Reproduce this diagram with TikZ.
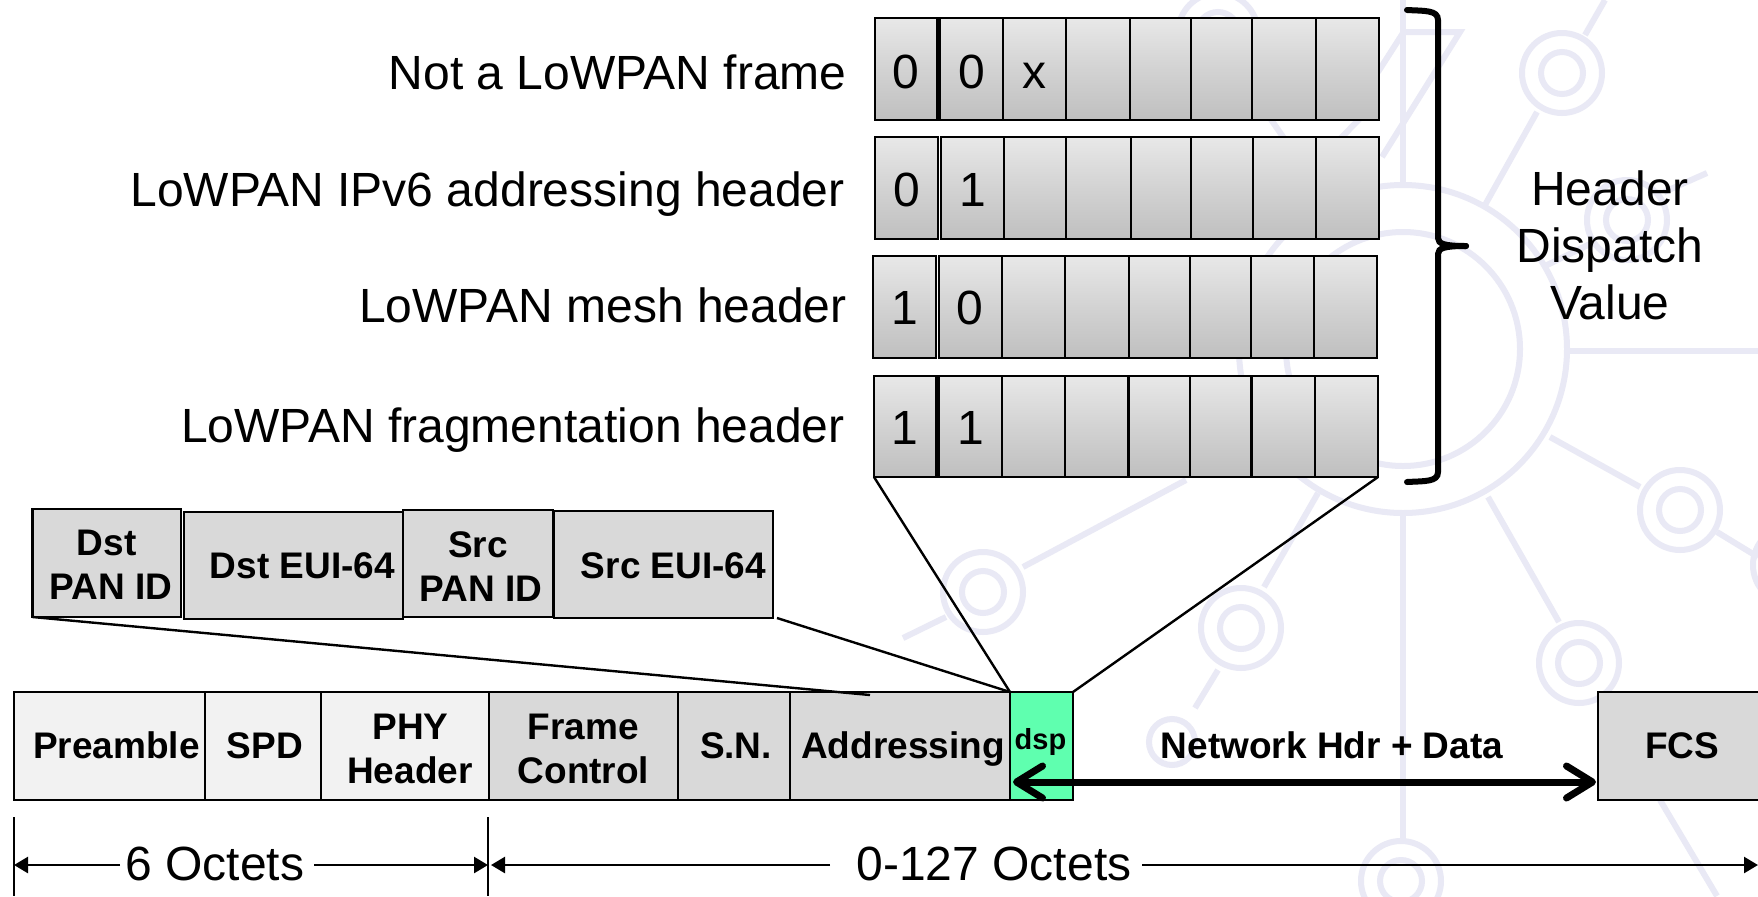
\documentclass[tikz,border=0pt]{standalone}
\usepackage{fontspec}
\setmainfont{Liberation Sans}
\usetikzlibrary{arrows.meta}
\definecolor{wm}{HTML}{E9E9F5}
\definecolor{bodygray}{HTML}{D9D9D9}
\definecolor{phygray}{HTML}{F2F2F2}
\definecolor{dspgreen}{HTML}{5FFFAF}
\tikzset{
  x=0.5pt,y=-0.5pt,
  bigtext/.style={font=\fontsize{24}{28.5}\selectfont},
  boldtext/.style={font=\fontsize{18.5}{22}\selectfont\bfseries},
  boxbase/.style={draw=black,line width=1.4pt,inner sep=0pt,outer sep=0pt,align=center,text depth=0pt},
  bitcell/.style={boxbase,bigtext,top color=gray!18,bottom color=gray!50,middle color=gray!35,line width=1.05pt,draw=black},
  bodybox/.style={boxbase,boldtext,fill=bodygray},
  phybox/.style={boxbase,boldtext,fill=phygray},
  dspbox/.style={boxbase,fill=dspgreen,font=\fontsize{14.5}{17}\selectfont\bfseries},
  wmline/.style={draw=wm,line width=3pt},
  wmring/.style={draw=wm,line width=3pt},
  link/.style={draw=black,line width=1.2pt},
  dim/.style={draw=black,line width=1.25pt,-{Triangle[length=7pt,width=8pt]}},
  tick/.style={draw=black,line width=1.25pt},
  thick arrow/.style={draw=black,line width=3.5pt,{Straight Barb[round,length=13pt,width=16pt,line width=3.5pt]}-{Straight Barb[round,length=13pt,width=16pt,line width=3.5pt]}},
}
% style, name, x1, y1, x2, y2, text baseline y (last line), text
\newcommand\boxcell[8]{%
  \pgfmathsetmacro\bcx{(#3+#5)/2}%
  \pgfmathsetmacro\bcy{(#4+#6)/2}%
  \pgfmathsetmacro\bcw{(#5-#3)*0.5}%
  \pgfmathsetmacro\bch{(#6-#4)*0.5}%
  \pgfmathsetmacro\bct{max(#7-\bcy,0)}%
  \node[#1,minimum width=\bcw pt,minimum height=\bch pt,text height=\bct pt] (#2) at (\bcx,\bcy) {#8};%
}
\newcommand\bitrow[5]{% name, y1, y2, baseline, cells
  \foreach \xa/\xb/\lab [count=\n] in {#5} {%
    \boxcell{bitcell}{#1\n}{\xa}{#2}{\xb}{#3}{#4}{\lab}
  }%
}
\begin{document}
\begin{tikzpicture}
\useasboundingbox (0,0) rectangle (1758,896);
\clip (0,0) rectangle (1758,896);
\fill[white] (0,0) rectangle (1758,896);
% watermark
\foreach \cxx/\cyy in {1562/73,1627/220,1680/510,1579/663,1241/628,983/592,1401/881,1218/33}{
  \draw[wmring] (\cxx,\cyy) circle[radius=40];
  \draw[wmring] (\cxx,\cyy) circle[radius=21];
}
\draw[wmring] (1172,742) circle[radius=23];
\draw[wmring] (1793,565) circle[radius=40];
\draw[wmring] (1403,349) circle[radius=164];
\draw[wmring] (1403,349) circle[radius=117];
\draw[wmline] (1403,513) -- (1403,841);
\draw[wmline] (1567,351) -- (1758,351);
\draw[wmline] (1537,112) -- (1485,205);
\draw[wmline] (1585,35) -- (1605,0);
\draw[wmline] (1707,173) -- (1664,192);
\draw[wmline] (1543,267) -- (1592,243);
\draw[wmline] (1550,437) -- (1640,487);
\draw[wmline] (1717,532) -- (1758,557);
\draw[wmline] (1488,497) -- (1559,622);
\draw[wmline] (1264,587) -- (1318,493);
\draw[wmline] (1218,670) -- (1195,708);
\draw[wmline] (1023,567) -- (1186,480);
\draw[wmline] (946,617) -- (903,638);
\draw[wmline] (1660,800) -- (1717,896);
\draw[wmline] (1403,0) -- (1403,185);
\draw[wmline] (1403,32) -- (1460,32) -- (1382,157);
\draw[wmline] (1403,33) -- (1378,72);
\draw[wmline] (1240,75) -- (1320,190);
\draw[wmline] (1378,100) -- (1300,180);
% bit rows
\bitrow{rowA}{18}{120}{88}{875/937.5/0,940.4/1003/0,1003/1066/x,1066/1129.6/{},1129.6/1191/{},1191/1252/{},1252/1316/{},1316/1378.6/{}}
\bitrow{rowB}{137}{239}{206}{875/938/0,940.7/1004/1,1004/1066.4/{},1066.4/1130.7/{},1130.7/1191/{},1191/1253/{},1253/1316/{},1316/1378.6/{}}
\bitrow{rowC}{256}{358}{324}{873/936/1,938.6/1002/0,1002/1064.6/{},1064.6/1128.6/{},1128.6/1189.6/{},1189.6/1251/{},1251/1313.6/{},1313.6/1377/{}}
\bitrow{rowD}{376}{477}{444}{874/936.5/1,939/1002/1,1002/1065/{},1065/1128.5/{},1128.5/1190/{},1190/1251.5/{},1251.5/1315/{},1315/1378/{}}
% row labels
\node[bigtext,anchor=base east,inner sep=0pt] (lblA) at (847,89) {Not a LoWPAN frame};
\node[bigtext,anchor=base east,inner sep=0pt] (lblB) at (845,206) {LoWPAN IPv6 addressing header};
\node[bigtext,anchor=base east,inner sep=0pt] (lblC) at (847,322) {LoWPAN mesh header};
\node[bigtext,anchor=base east,inner sep=0pt] (lblD) at (845,442) {LoWPAN fragmentation header};
% brace
\draw[line width=3pt,line cap=round] (1407,10) .. controls (1425,11) and (1438,10) .. (1438,20) -- (1438,238) .. controls (1438,244) and (1445,246) .. (1466,246);
\draw[line width=3pt,line cap=round] (1407,482) .. controls (1425,481) and (1438,482) .. (1438,472) -- (1438,254) .. controls (1438,248) and (1445,246) .. (1466,246);
\node[bigtext,align=center,inner sep=0pt,anchor=center] (hdv) at (1610,245) {Header\\Dispatch\\Value};
% addressing fields
\boxcell{bodybox}{dstpan}{32.5}{509}{181}{617}{599}{Dst\\\hspace*{4.5pt}PAN ID}
\boxcell{bodybox}{dsteui}{184}{512}{403}{619}{578}{\hspace*{9pt}Dst EUI-64}
\boxcell{bodybox}{srcpan}{403}{510}{553}{617}{601}{Src\\\hspace*{3pt}PAN ID}
\boxcell{bodybox}{srceui}{554}{511}{773}{618}{578}{\hspace*{10pt}Src EUI-64}
% frame
\boxcell{phybox}{preamble}{14}{692}{205}{800}{758}{\hspace*{7pt}Preamble}
\boxcell{phybox}{spd}{205}{692}{321}{800}{758}{\hspace*{2pt}SPD}
\boxcell{phybox}{phy}{321}{692}{489}{800}{783}{\hspace*{5.6pt}PHY\\\hspace*{5pt}Header}
\boxcell{bodybox}{fctl}{489}{692}{678}{800}{783}{Frame\\Control}
\boxcell{bodybox}{sn}{678}{692}{790}{800}{758}{\hspace*{2pt}S.N.}
\boxcell{bodybox}{addr}{790}{692}{1010}{800}{758}{\hspace*{3pt}Addressing}
\boxcell{dspbox}{dsp}{1010}{692}{1073}{800}{749}{\hspace*{-1pt}dsp}
\boxcell{bodybox}{fcs}{1598}{692}{1770}{800}{758}{\hspace*{-2pt}FCS}
\node[boldtext,anchor=base,inner sep=0pt] (ntext) at (1332,758) {Network Hdr + Data};
% connectors
\coordinate (addrtop) at (870,695);
\coordinate (srcoff) at (777,618);
\draw[link] (dstpan.south west) -- (addrtop);
\draw[link] (srcoff) -- (dsp.north west);
\draw[link] (rowD1.south west) -- (dsp.north west);
\draw[link] (rowD8.south east) -- (dsp.north east);
\coordinate (netL) at (1013,782);
\coordinate (netR) at (1596,782);
\draw[thick arrow] (netL) -- (netR);
% dimensions
\coordinate (tL) at (14,865);
\coordinate (tM) at (488,865);
\coordinate (tMb) at (491,865);
\coordinate (tR) at (1758,865);
\coordinate (tLtop) at (14,817);
\coordinate (tLbot) at (14,896);
\coordinate (tMtop) at (488,817);
\coordinate (tMbot) at (488,896);
\draw[tick] (tLtop) -- (tLbot);
\draw[tick] (tMtop) -- (tMbot);
\node[bigtext,anchor=base,inner sep=0pt] (six) at (215,880) {6 Octets};
\node[bigtext,anchor=base,inner sep=0pt] (oct) at (994,880) {0-127 Octets};
\coordinate (a1) at (120,865);
\coordinate (a2) at (314,865);
\coordinate (a3) at (830,865);
\coordinate (a4) at (1142,865);
\draw[dim] (a1) -- (tL);
\draw[dim] (a2) -- (tM);
\draw[dim] (a3) -- (tMb);
\draw[dim] (a4) -- (tR);
\end{tikzpicture}
\end{document}
